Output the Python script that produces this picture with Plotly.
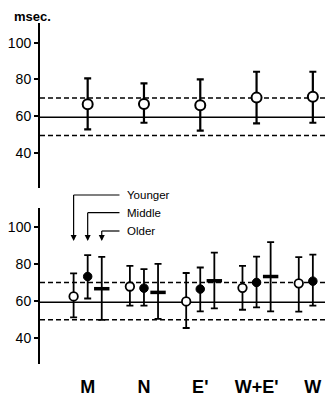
import plotly.graph_objects as go

categories = ["M", "N", "E'", "W+E'", "W"]
tick_values_y = [40, 60, 80, 100]

# Top panel: all subjects
all_mean = [66.5, 66.6, 65.9, 70.1, 70.6]
all_upper = [80.6, 77.9, 80.1, 84.2, 84.2]
all_lower = [52.8, 56.4, 52.1, 56.1, 56.4]

# Bottom panel: age groups
young_mean = [62.3, 67.7, 59.6, 67.0, 69.4]
young_upper = [74.8, 78.9, 75.0, 78.9, 83.6]
young_lower = [51.0, 57.3, 45.2, 55.1, 54.1]

middle_mean = [73.1, 66.8, 66.3, 69.9, 70.6]
middle_upper = [84.7, 77.1, 78.0, 83.9, 85.0]
middle_lower = [61.2, 57.3, 54.2, 56.4, 57.3]

older_cats = ["M", "N", "E'", "W+E'"]
older_mean = [66.5, 64.5, 70.8, 73.1]
older_upper = [83.8, 80.0, 86.1, 91.7]
older_lower = [49.6, 50.1, 55.8, 54.2]

# Normal range (mean and +/- limits)
top_norm = [59.4, 69.9, 49.5]
bottom_norm = [59.2, 69.8, 49.7]

group_offsets = {"Younger": -0.25, "Middle": 0.0, "Older": 0.25}

# the page body has an 8px margin, so the figure is laid out 8px smaller
PAGE_OFF = 8
W, H = 333 - PAGE_OFF, 400 - PAGE_OFF
M_L, M_R, M_T, M_B = 38 - PAGE_OFF, 0, 23 - PAGE_OFF, 36
plot_h = H - M_T - M_B
plot_w = W - M_L - M_R


def py(p):
    """window pixel row -> paper y"""
    return (H - M_B - (p - PAGE_OFF)) / plot_h


def px(p):
    """window pixel column -> paper x"""
    return ((p - PAGE_OFF) - M_L) / plot_w


def pos(cats, off):
    return [categories.index(c) + off for c in cats]


def err(mean, up, lo):
    return dict(type="data", symmetric=False,
                array=[u - m for u, m in zip(up, mean)],
                arrayminus=[m - l for m, l in zip(mean, lo)],
                color="black", thickness=1.8, width=3.5)


fig = go.Figure()
font = "Liberation Sans, Arial, sans-serif"

fig.add_trace(go.Scatter(
    x=pos(categories, 0), y=all_mean, mode="markers", xaxis="x", yaxis="y",
    error_y=dict(err(all_mean, all_upper, all_lower), thickness=2.2),
    marker=dict(symbol="circle", size=10, color="white", line=dict(color="black", width=2)),
    showlegend=False, cliponaxis=False))

fig.add_trace(go.Scatter(
    x=pos(categories, group_offsets["Younger"]), y=young_mean, mode="markers",
    xaxis="x2", yaxis="y2", error_y=err(young_mean, young_upper, young_lower),
    marker=dict(symbol="circle", size=8.5, color="white", line=dict(color="black", width=1.8)),
    showlegend=False, cliponaxis=False))
fig.add_trace(go.Scatter(
    x=pos(categories, group_offsets["Middle"]), y=middle_mean, mode="markers",
    xaxis="x2", yaxis="y2", error_y=err(middle_mean, middle_upper, middle_lower),
    marker=dict(symbol="circle", size=8.5, color="black", line=dict(color="black", width=1)),
    showlegend=False, cliponaxis=False))
fig.add_trace(go.Scatter(
    x=pos(older_cats, group_offsets["Older"]), y=older_mean, mode="markers",
    xaxis="x2", yaxis="y2", error_y=err(older_mean, older_upper, older_lower),
    marker=dict(symbol="line-ew", size=11, color="black", line=dict(color="black", width=3.5)),
    showlegend=False, cliponaxis=False))

shapes = []
for xr, yr, norm in (("x", "y", top_norm), ("x2", "y2", bottom_norm)):
    mean, up, lo = norm
    shapes.append(dict(type="line", xref=f"{xr} domain", yref=yr, x0=0, x1=1, y0=mean, y1=mean,
                       line=dict(color="black", width=1.5), layer="below"))
    for v in (up, lo):
        shapes.append(dict(type="line", xref=f"{xr} domain", yref=yr, x0=0, x1=1, y0=v, y1=v,
                           line=dict(color="black", width=1.5, dash="5px,3px"), layer="below"))

# Callout legend (Younger / Middle / Older)
legend_rows = [("Younger", 195), ("Middle", 212.7), ("Older", 231)]
text_x = 0.655
line_end_x = 0.565
tip_px = 241
annotations = []
for name, row in legend_rows:
    gx = group_offsets[name]
    shapes.append(dict(type="line", xref="x2", yref="paper", x0=gx, x1=line_end_x,
                       y0=py(row), y1=py(row), line=dict(color="black", width=1.2)))
    shapes.append(dict(type="line", xref="x2", yref="paper", x0=gx, x1=gx,
                       y0=py(row), y1=py(tip_px - 3), line=dict(color="black", width=1.2)))
    annotations.append(dict(x=gx, y=py(tip_px), xref="x2", yref="paper", text="",
                            showarrow=True, ax=0, ay=-5, arrowhead=2, arrowsize=1,
                            arrowwidth=1.2, arrowcolor="black"))
    annotations.append(dict(x=text_x, y=py(row), xref="x2", yref="paper", text=name,
                            showarrow=False, xanchor="left", yanchor="middle",
                            font=dict(family=font, size=11.5, color="black")))

annotations.append(dict(x=px(10), y=py(16), xref="paper", yref="paper", text="<b>msec.</b>",
                        showarrow=False, xanchor="left", yanchor="middle",
                        font=dict(family=font, size=13, color="black")))

xr = [-0.847, 4.358]
yaxis_common = dict(showline=True, linewidth=2, linecolor="black", ticks="outside",
                    ticklen=4, tickwidth=1.5, tickcolor="black", tickvals=tick_values_y,
                    showgrid=False, zeroline=False,
                    tickfont=dict(family=font, size=14, color="black"))

fig.update_layout(
    width=W, height=H, margin=dict(l=M_L, r=M_R, t=M_T, b=M_B),
    paper_bgcolor="white", plot_bgcolor="white",
    xaxis=dict(domain=[0, 1], range=xr, anchor="y", showline=False, showgrid=False,
               zeroline=False, showticklabels=False, ticks=""),
    yaxis=dict(domain=[py(188), 1], range=[20.8, 110.8], anchor="x", **yaxis_common),
    xaxis2=dict(domain=[0, 1], range=xr, anchor="y2", showline=False, showgrid=False,
                zeroline=False, tickvals=list(range(len(categories))), ticktext=categories,
                ticks="outside", ticklen=6, tickcolor="rgba(0,0,0,0)",
                tickfont=dict(family=font, size=18, color="black", weight="bold")),
    yaxis2=dict(domain=[0, py(207.7)], range=[25.7, 110.4], anchor="x2", **yaxis_common),
    shapes=shapes, annotations=annotations,
)

fig.write_html("out.html")
